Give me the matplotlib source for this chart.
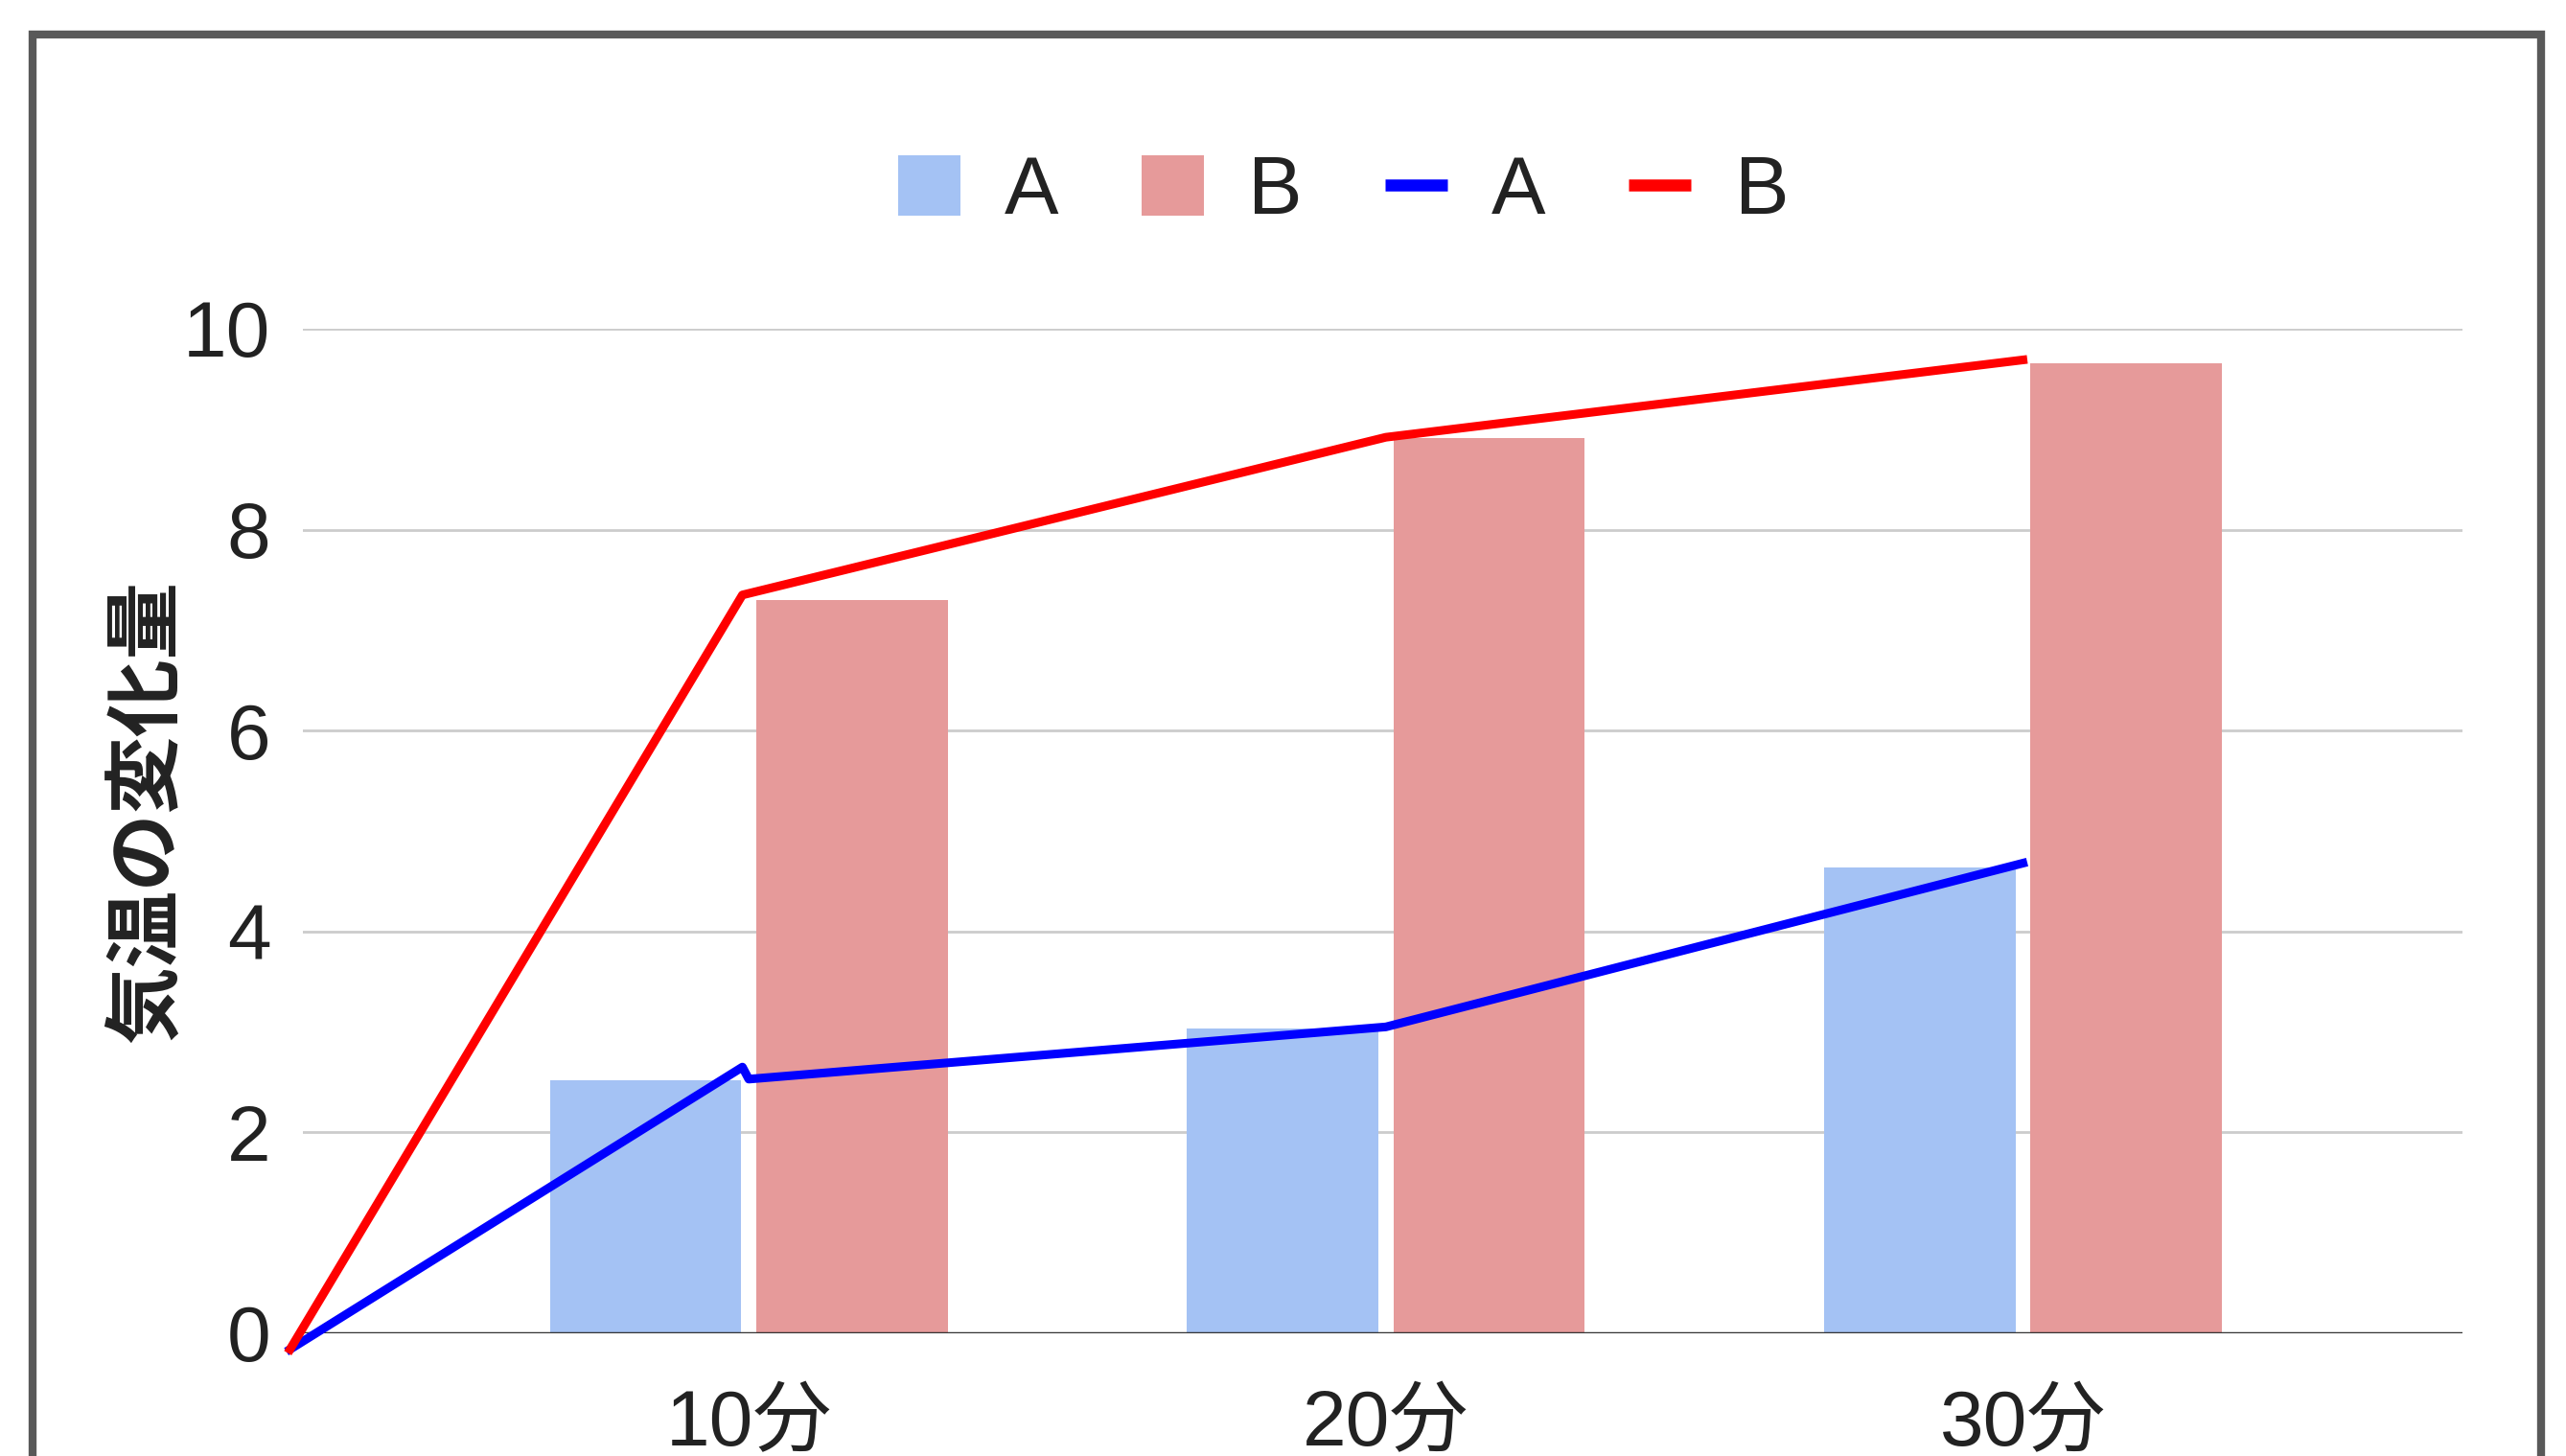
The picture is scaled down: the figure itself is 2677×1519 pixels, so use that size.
import matplotlib
matplotlib.use("Agg")
from matplotlib import pyplot as plt
from matplotlib.patches import Rectangle, Patch
from matplotlib.lines import Line2D
import numpy as np

plt.rcParams['font.family'] = ['Liberation Sans', 'Noto Sans CJK JP', 'DejaVu Sans']

categories = ["10分", "20分", "30分"]
bar_a = [2.52, 3.03, 4.64]
bar_b = [7.30, 8.91, 9.66]

# hand drawn lines start at the origin corner (left of the first category)
line_a_x = [-0.72, -0.01, 0.0, 1.0, 2.0]
line_a = [-0.16, 2.65, 2.53, 3.05, 4.68]
line_b_x = [-0.72, -0.01, 1.0, 2.0]
line_b = [-0.16, 7.35, 8.92, 9.69]

yticks = [0, 2, 4, 6, 8, 10]

col_a = "#a4c2f4"
col_b = "#e69a9a"
txt = "#222222"


def main():
    fig = plt.figure(figsize=(26.77, 15.19), dpi=100)
    ax = fig.add_axes([0.118, 0.0843, 0.8417, 0.6899])

    x = np.arange(len(categories))
    w = 0.30
    ax.bar(x - 0.162, bar_a, w, color=col_a, zorder=2)
    ax.bar(x + 0.162, bar_b, w, color=col_b, zorder=2)

    ax.plot(line_a_x, line_a, color="#0000ff", lw=6.5, zorder=4, clip_on=False,
            solid_joinstyle="round")
    ax.plot(line_b_x, line_b, color="#ff0000", lw=6.5, zorder=4, clip_on=False,
            solid_joinstyle="round")

    ax.set_xlim(-0.70, 2.69)
    ax.set_ylim(0, 10)
    ax.set_yticks(yticks)
    ax.set_xticks(x)
    ax.set_xticklabels(categories)

    for s in ax.spines.values():
        s.set_visible(False)
    ax.grid(axis="y", color="#cccccc", lw=2, zorder=0)
    ax.axhline(0, color="#333333", lw=2.5, zorder=3)

    ax.tick_params(axis="both", length=0, labelsize=59, colors=txt)
    ax.tick_params(axis="x", pad=42)
    ax.tick_params(axis="y", pad=24)

    ax.set_ylabel("気温の変化量", fontsize=58, color=txt, fontweight="bold",
                  family=['Noto Sans CJK JP', 'DejaVu Sans'])
    ax.yaxis.set_label_coords(-0.054, 0.52)

    handles = [
        Patch(facecolor=col_a, edgecolor="none"),
        Patch(facecolor=col_b, edgecolor="none"),
        Line2D([], [], color="#0000ff", lw=9, solid_capstyle="butt"),
        Line2D([], [], color="#ff0000", lw=9, solid_capstyle="butt"),
    ]
    fig.legend(handles, ["A", "B", "A", "B"], loc="center",
               bbox_to_anchor=(1402 / 2677, 1 - 201 / 1519), ncol=4,
               frameon=False, fontsize=61, handlelength=0.76, handleheight=0.76,
               handletextpad=0.55, columnspacing=1.02, labelcolor=txt)

    # outer frame, cut off at the bottom of the image
    frame = Rectangle((34 / 2677, -0.2), (2651 - 34) / 2677, 1.2 - 36 / 1519,
                      transform=fig.transFigure, fill=False, lw=6,
                      edgecolor="#595959")
    fig.patches.append(frame)

    fig.savefig("out.png", dpi=100, facecolor="white")


if __name__ == "__main__":
    main()
